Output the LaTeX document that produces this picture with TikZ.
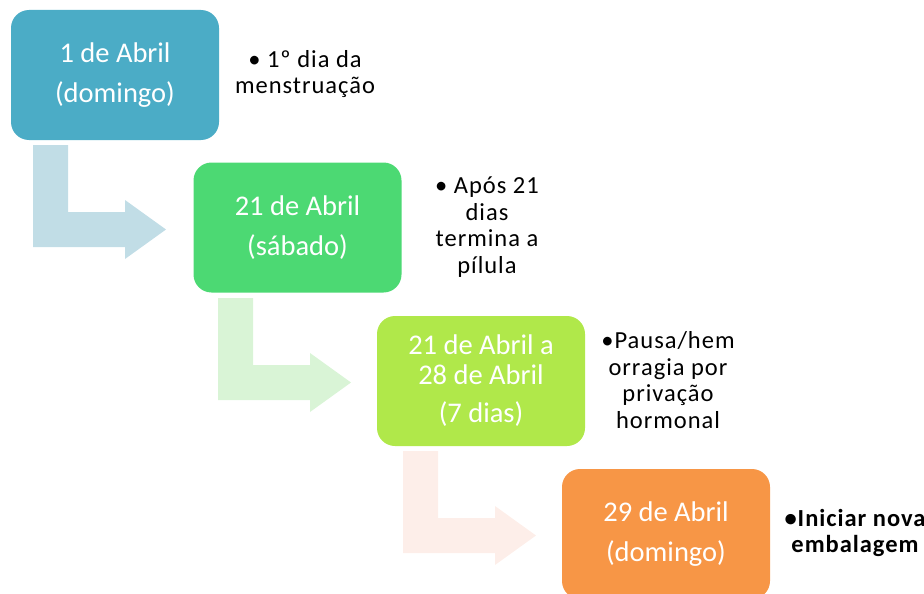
\documentclass[tikz,border=0pt]{standalone}
\usepackage{fontspec}
\setmainfont{Carlito}
\newfontfamily\notefont[LetterSpace=4]{Carlito}
\usetikzlibrary{positioning}

\definecolor{tealbox}{HTML}{4BACC6}
\definecolor{greenbox}{HTML}{4CD973}
\definecolor{limebox}{HTML}{B0E84A}
\definecolor{orangebox}{HTML}{F79646}
\definecolor{tealarrow}{HTML}{C1DDE6}
\definecolor{greenarrow}{HTML}{D9F4D6}
\definecolor{pinkarrow}{HTML}{FDEEE9}

\tikzset{
  datebox/.style={rounded corners=18pt,minimum width=208pt,minimum height=130pt,
    text=white,align=center,font=\fontsize{28.5}{30}\selectfont},
  note/.style={align=center,font=\notefont\fontsize{24.5}{26.5}\selectfont},
}

% bent arrow: left/top corner of the shaft, colour
\newcommand{\bentarrow}[3]{%
  \fill[#3,shift={(#1,#2)}](0,0)--(35,0)--(35,67)--(92,67)--(92,55)--(133,84.5)--(92,114)--(92,102)--(0,102)--cycle;}

\begin{document}
\begin{tikzpicture}[x=1pt,y=-1pt]
        \useasboundingbox(0,0)rectangle(924,594);
        \clip(0,0)rectangle(924,594);

        \bentarrow{33}{145}{tealarrow}
        \bentarrow{218}{298}{greenarrow}
        \bentarrow{403}{451}{pinkarrow}

        \node[datebox,fill=tealbox](box1)at(115,75){1 de Abril\\[10pt](domingo)};
        \node[datebox,fill=greenbox](box2)at(297.5,227.5){21 de Abril\\[10pt](sábado)};
        \node[datebox,fill=limebox](box3)at(481,381){21 de Abril a\\28 de Abril\\[8pt](7 dias)};
        \node[datebox,fill=orangebox](box4)at(666,534){29 de Abril\\[10pt](domingo)};

        \node[note](note1)at(305,74){• 1º dia da\\menstruação};
        \node[note](note2)at(487,227){• Após 21\\dias\\termina a\\pílula};
        \node[note](note3)at(668,380){•Pausa/hem\\orragia por\\privação\\hormonal};
        \node[note,font=\notefont\fontsize{24.5}{26.5}\selectfont\bfseries](note4)at(855,533){•Iniciar nova\\embalagem};
    \end{tikzpicture}
\end{document}
